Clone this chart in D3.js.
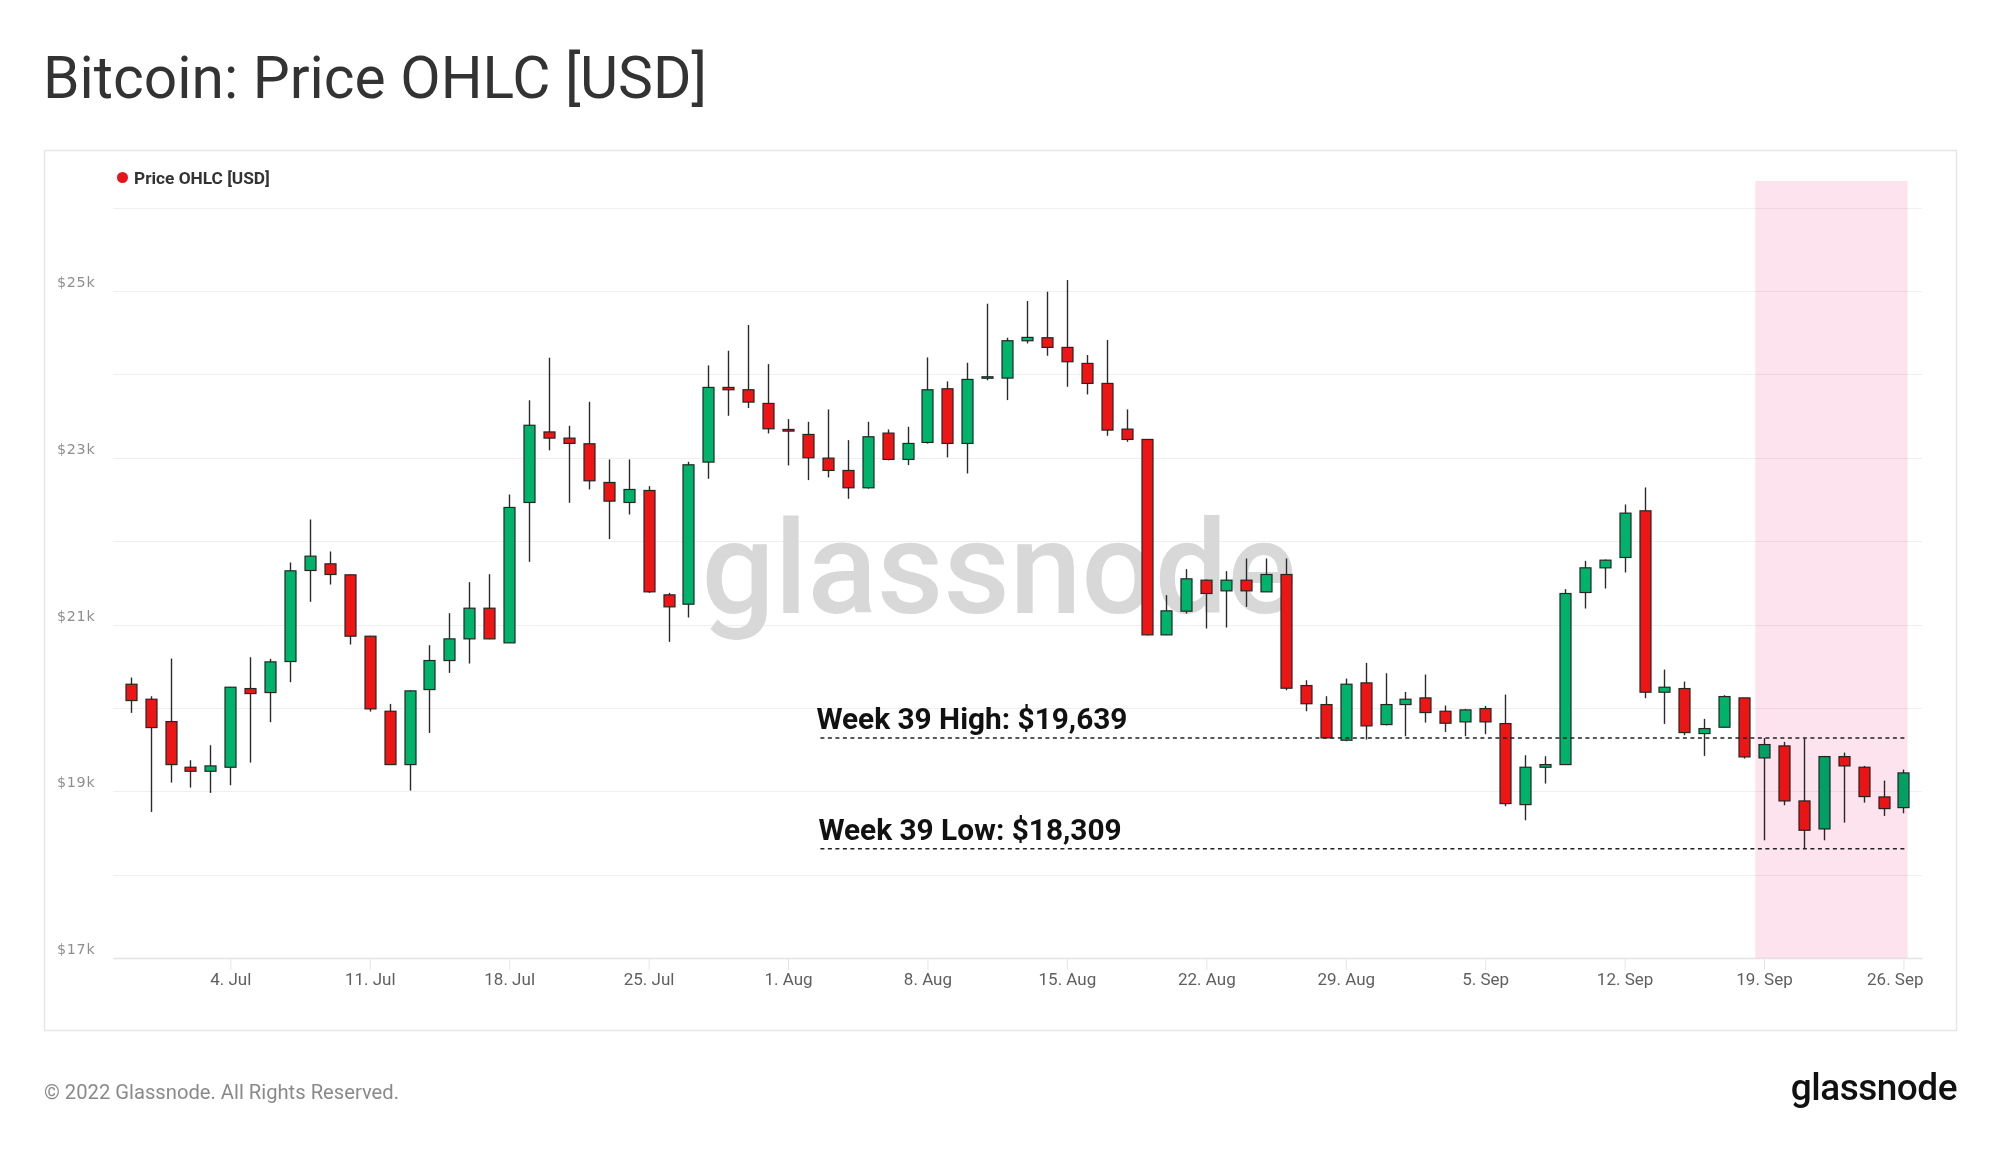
<!DOCTYPE html>
<html><head><meta charset="utf-8">
<script src="https://cdn.jsdelivr.net/npm/d3@7"></script>
<style>html,body{margin:0;padding:0;background:#fff;} svg{display:block;}</style>
</head><body>
<svg id="c" width="2000" height="1152"></svg>
<script>
const dates = ["2022-06-29","2022-06-30","2022-07-01","2022-07-02","2022-07-03","2022-07-04","2022-07-05","2022-07-06","2022-07-07","2022-07-08",
"2022-07-09","2022-07-10","2022-07-11","2022-07-12","2022-07-13","2022-07-14","2022-07-15","2022-07-16","2022-07-17","2022-07-18",
"2022-07-19","2022-07-20","2022-07-21","2022-07-22","2022-07-23","2022-07-24","2022-07-25","2022-07-26","2022-07-27","2022-07-28",
"2022-07-29","2022-07-30","2022-07-31","2022-08-01","2022-08-02","2022-08-03","2022-08-04","2022-08-05","2022-08-06","2022-08-07",
"2022-08-08","2022-08-09","2022-08-10","2022-08-11","2022-08-12","2022-08-13","2022-08-14","2022-08-15","2022-08-16","2022-08-17",
"2022-08-18","2022-08-19","2022-08-20","2022-08-21","2022-08-22","2022-08-23","2022-08-24","2022-08-25","2022-08-26","2022-08-27",
"2022-08-28","2022-08-29","2022-08-30","2022-08-31","2022-09-01","2022-09-02","2022-09-03","2022-09-04","2022-09-05","2022-09-06",
"2022-09-07","2022-09-08","2022-09-09","2022-09-10","2022-09-11","2022-09-12","2022-09-13","2022-09-14","2022-09-15","2022-09-16",
"2022-09-17","2022-09-18","2022-09-19","2022-09-20","2022-09-21","2022-09-22","2022-09-23","2022-09-24","2022-09-25","2022-09-26"];
const open = [20284,20104,19836,19288,19240,19288,20232,20184,20556,21648,
21728,21596,20860,19960,19320,20220,20568,20828,21196,20780,
22464,23310,23236,23168,22704,22464,22608,21356,21244,22948,
23844,23816,23652,23340,23280,22996,22848,22640,23296,22980,
23184,23828,23172,23956,23956,24404,24440,24324,24132,23892,
23344,23220,20876,21160,21532,21404,21532,21392,21600,20268,
20040,19612,20300,19800,20040,20120,19960,19832,19992,19812,
18840,19288,19320,21384,21680,21804,22364,20188,20232,19692,
19768,20120,19400,19544,18884,18548,19416,19288,18932,18804];
const high = [20364,20140,20592,19372,19552,20252,20608,20588,21744,22260,
21876,21600,20864,20048,20212,20752,21136,21508,21604,22560,
23690,24200,23384,23672,22980,22980,22660,21380,22952,24108,
24284,24592,24124,23464,23432,23580,23212,23432,23340,23372,
24204,23916,24140,24848,24440,24880,24992,25132,24232,24412,
23580,23226,21352,21664,21540,21640,21792,21792,21792,20332,
20140,20352,20540,20416,20192,20400,20028,19988,20024,20160,
19432,19420,21424,21764,21780,22440,22644,20460,20316,19868,
20152,20120,19639,19592,19632,19424,19464,19304,19128,19260];
const low = [19940,18752,19104,19044,18980,19072,19344,19828,20308,21272,
21480,20760,19956,19316,19008,19700,20420,20532,20824,20780,
21752,23090,22460,22620,22024,22320,21380,20792,21084,22748,
23504,23596,23292,22908,22732,22764,22508,22630,22970,22912,
23170,23004,22812,23930,23692,24372,24224,23852,23760,23264,
23192,20870,20872,21132,20952,20964,21212,21390,20212,19960,
19640,19600,19620,19790,19660,19824,19712,19660,19684,18820,
18652,19092,19318,21192,21432,21624,20116,19808,19672,19424,
19766,19392,18412,18832,18309,18412,18624,18864,18704,18736];
const close = [20088,19764,19320,19240,19304,20248,20172,20552,21644,21820,
21600,20860,19988,19320,20204,20568,20828,21196,20828,22404,
23390,23236,23172,22724,22480,22620,21392,21212,22916,23844,
23816,23668,23348,23320,23000,22848,22640,23252,22980,23172,
23816,23172,23940,23972,24404,24444,24324,24152,23892,23332,
23220,20876,21164,21548,21372,21532,21404,21600,20236,20050,
19640,20284,19784,20040,20104,19944,19816,19976,19832,18852,
19288,19320,21372,21680,21772,22336,20188,20248,19704,19752,
20136,19412,19560,18884,18532,19416,19304,18936,18792,19220];

const yGridValues = [17000,18000,19000,20000,21000,22000,23000,24000,25000,26000];
const yLabelValues = [17000,19000,21000,23000,25000];
const yLabels = ["$17k","$19k","$21k","$23k","$25k"];
const xTickDates = ["2022-07-04","2022-07-11","2022-07-18","2022-07-25","2022-08-01","2022-08-08","2022-08-15","2022-08-22","2022-08-29","2022-09-05","2022-09-12","2022-09-19","2022-09-26"];
const xTickLabels = ["4. Jul","11. Jul","18. Jul","25. Jul","1. Aug","8. Aug","15. Aug","22. Aug","29. Aug","5. Sep","12. Sep","19. Sep","26. Sep"];
const xDomain = ["2022-06-28T02:40:00Z","2022-09-26T22:20:00Z"];
const yDomain = [17000, 26320];
const bandRange = ["2022-09-18T13:30:00Z","2022-09-26T05:00:00Z"];
const annotationLabels = ["Week 39 High: $19,639","Week 39 Low: $18,309"];
const annotationValues = [19639, 18309];
const annotationStart = "2022-08-02T15:00:00Z";

const svg = d3.select("#c");
const plot = {left:113, right:1922, top:181, bottom:958};
const parse = s => new Date(s.length === 10 ? s + "T00:00:00Z" : s);

const x = d3.scaleUtc().domain(xDomain.map(parse)).range([plot.left, plot.right]);
const y = d3.scaleLinear().domain(yDomain).range([plot.bottom, plot.top]);

// Title
svg.append("text").attr("x", 43).attr("y", 98)
  .attr("font-family", "Roboto, sans-serif").attr("font-size", 58.7)
  .attr("fill", "#333").text("Bitcoin: Price OHLC [USD]");

// Frame
svg.append("rect").attr("x", 44.5).attr("y", 150.5).attr("width", 1912).attr("height", 880)
  .attr("fill", "none").attr("stroke", "#e6e6e6").attr("stroke-width", 1.5);

// Legend
svg.append("circle").attr("cx", 122.5).attr("cy", 177.5).attr("r", 5.5).attr("fill", "#e8141b");
svg.append("text").attr("x", 134).attr("y", 183.5)
  .attr("font-family", "Roboto, sans-serif").attr("font-weight", 700).attr("font-size", 17.3)
  .attr("fill", "#333").text("Price OHLC [USD]");

// Grid
svg.append("g").selectAll("line").data(yGridValues).join("line")
  .attr("x1", plot.left).attr("x2", plot.right)
  .attr("y1", d => Math.round(y(d)) + 0.5).attr("y2", d => Math.round(y(d)) + 0.5)
  .attr("stroke", "#efefef").attr("stroke-width", 1.2);

// y labels
svg.append("g").selectAll("text").data(yLabelValues).join("text")
  .attr("x", 57).attr("y", d => y(d) - 4)
  .attr("font-family", "'DejaVu Sans', sans-serif").attr("font-size", 14.3)
  .attr("letter-spacing", 0.7)
  .attr("fill", "#8e8e8e").text((d, i) => yLabels[i]);

// Watermark
svg.append("text").attr("x", 999).attr("y", 613).attr("text-anchor", "middle")
  .attr("font-family", "Roboto, sans-serif").attr("font-weight", 500).attr("font-size", 129)
  .attr("fill", "#d8d8d8").text("glassnode");

// x axis
const xAxis = d3.axisBottom(x)
  .tickValues(xTickDates.map(parse))
  .tickFormat((d, i) => xTickLabels[i])
  .tickSize(12).tickSizeOuter(0).tickPadding(3);
const gx = svg.append("g").attr("transform", `translate(0,${plot.bottom})`).call(xAxis);
gx.select(".domain").attr("stroke", "#e3e3e3").attr("stroke-width", 1.5);
gx.selectAll(".tick line").attr("stroke", "#e6e6e6");
gx.selectAll(".tick text").attr("font-family", "Roboto, sans-serif").attr("font-size", 17)
  .attr("fill", "#5f5f5f");
gx.selectAll(".tick").filter((d, i) => i === xTickDates.length - 1).select("text")
  .attr("text-anchor", "end").attr("dx", plot.right + 1 - x(parse(xTickDates[xTickDates.length - 1])));

// Candles
const candles = dates.map((d, i) => ({date: parse(d), o: open[i], h: high[i], l: low[i], c: close[i]}));
const bw = 11;
const gc = svg.append("g");
gc.selectAll("line").data(candles).join("line")
  .attr("x1", d => Math.round(x(d.date)) + 0.5).attr("x2", d => Math.round(x(d.date)) + 0.5)
  .attr("y1", d => y(d.h)).attr("y2", d => y(d.l))
  .attr("stroke", "#2a2a2a").attr("stroke-width", 1.4);
gc.selectAll("rect").data(candles).join("rect")
  .attr("x", d => Math.round(x(d.date)) + 0.5 - bw / 2)
  .attr("width", bw)
  .attr("y", d => y(Math.max(d.o, d.c)))
  .attr("height", d => Math.max(1.5, Math.abs(y(d.o) - y(d.c))))
  .attr("fill", d => d.c >= d.o ? "#00b36b" : "#ee1515")
  .attr("stroke", "#262626").attr("stroke-width", 1.2);

// Band (multiply)
const band = bandRange.map(parse);
svg.append("rect").attr("x", x(band[0])).attr("width", x(band[1]) - x(band[0]))
  .attr("y", plot.top).attr("height", plot.bottom - plot.top)
  .attr("fill", "#fde3ee").style("mix-blend-mode", "multiply");

// Annotations
const ga = svg.append("g");
const aStart = parse(annotationStart);
annotationValues.forEach((v, i) => {
  ga.append("line").attr("x1", x(aStart)).attr("x2", x(band[1]))
    .attr("y1", y(v)).attr("y2", y(v))
    .attr("stroke", "#222").attr("stroke-width", 1.5).attr("stroke-dasharray", "4,3.5");
  ga.append("text").attr("x", x(aStart) - 4 + (i === 1 ? 2 : 0)).attr("y", y(v) - 9)
    .attr("font-family", "Roboto, sans-serif").attr("font-weight", 700).attr("font-size", 29.8)
    .attr("fill", "#111").text(annotationLabels[i]);
});

// Footer
svg.append("text").attr("x", 44).attr("y", 1099)
  .attr("font-family", "Roboto, sans-serif").attr("font-size", 20.2)
  .attr("fill", "#8a8a8a").text("© 2022 Glassnode. All Rights Reserved.");
svg.append("text").attr("x", 1957).attr("y", 1100).attr("text-anchor", "end")
  .attr("font-family", "Roboto, sans-serif").attr("font-weight", 500).attr("font-size", 37)
  .attr("letter-spacing", -0.5)
  .attr("fill", "#111").text("glassnode");
</script>
</body></html>
